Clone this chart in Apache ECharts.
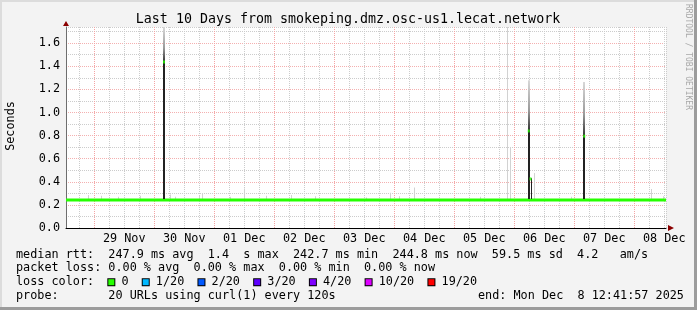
<!DOCTYPE html>
<html><head><meta charset="utf-8">
<script src="https://cdn.jsdelivr.net/npm/echarts@6/dist/echarts.min.js"></script>
<style>html,body{margin:0;padding:0;background:#f3f3f3}#c{width:697px;height:310px}</style>
</head><body><div id="c"></div>
<script>
// ---- data (time = hours since 28 Nov 00:00) ----
const titleText = 'Last 10 Days from smokeping.dmz.osc-us1.lecat.network';
const yAxisName = 'Seconds';
const sideText = 'RRDTOOL / TOBI OETIKER';
const dayLabels = ['29 Nov','30 Nov','01 Dec','02 Dec','03 Dec','04 Dec','05 Dec','06 Dec','07 Dec','08 Dec'];
const startHour = 12.7;
const endHour = 252.7;
const yMax = 1.74;

const medianTime = [12.7,18,24,30,36,42,48,54,60,66,72,78,84,90,96,102,108,114,120,126,132,138,144,150,156,162,168,174,180,186,192,198,204,210,216,222,228,234,240,246,252.7];
const medianValue = [0.242,0.243,0.242,0.242,0.243,0.242,0.242,0.242,0.243,0.242,0.242,0.242,0.243,0.242,0.242,0.242,0.242,0.243,0.242,0.242,0.242,0.243,0.242,0.242,0.242,0.242,0.243,0.242,0.242,0.242,0.242,0.242,0.243,0.242,0.242,0.242,0.242,0.243,0.242,0.242,0.242];

const smokeTime = [21.5,27.0,33.5,42.6,54.3,56.3,66.0,67.4,78.3,84.0,93.0,102.7,112.3,132.7,142.5,146.0,152.0,178.6,189.2,190.4,199.9,215.0,247.0,251.6];
const smokeLow  = [0.245,0.245,0.245,0.245,0.245,0.245,0.245,0.245,0.245,0.245,0.245,0.245,0.245,0.245,0.245,0.245,0.245,0.245,0.245,0.245,0.245,0.245,0.245,0.245];
const smokeHigh = [0.285,0.28,0.27,0.28,0.29,0.27,0.28,0.30,0.27,0.343,0.28,0.285,0.275,0.265,0.305,0.275,0.35,0.27,2.0,0.70,0.476,0.27,0.337,0.275];

const spikeTime   = [51.9,197.8,198.5,220.0];
const spikeLow    = [0.25,0.25,0.25,0.25];
const spikeDense  = [1.436,0.84,0.43,0.795];
const spikeHigh   = [2.0,1.28,0.43,1.264];
const spikeMedian = [1.436,0.84,0.425,0.795];

const lossLabels = ['0','1/20','2/20','3/20','4/20','10/20','19/20'];
const lossColors = ['#26ff00','#00b8ff','#0059ff','#5e00ff','#7e00ff','#dd00ff','#ff0000'];

const rttLine   = 'median rtt:  247.9 ms avg  1.4  s max  242.7 ms min  244.8 ms now  59.5 ms sd  4.2   am/s';
const lossLine  = 'packet loss: 0.00 % avg  0.00 % max  0.00 % min  0.00 % now';
const lossTitle = 'loss color:';
const probeLine = 'probe:       20 URLs using curl(1) every 120s';
const endLine   = 'end: Mon Dec  8 12:41:57 2025';

// ---- chart ----
const MONO = '"DejaVu Sans Mono", monospace';
const FS = 11.8;
const chart = echarts.init(document.getElementById('c'), null, {renderer: 'canvas'});

function isMult(v, step) { const r = v / step; return Math.abs(r - Math.round(r)) < 1e-6; }

function clipTo(params, shape) {
  return echarts.graphic.clipRectByRect(shape, {
    x: params.coordSys.x, y: params.coordSys.y,
    width: params.coordSys.width, height: params.coordSys.height
  });
}

function renderSmoke(params, api) {
  const t = api.value(0), lo = api.value(1), hi = api.value(2);
  const p1 = api.coord([t, lo]), p2 = api.coord([t, hi]);
  const shape = clipTo(params, {x: Math.floor(p1[0]), y: p2[1], width: 1, height: p1[1] - p2[1]});
  if (!shape) return;
  return {type: 'rect', shape: shape, style: {fill: '#d2d2d2'}};
}

function renderSpike(params, api) {
  const t = api.value(0), lo = api.value(1), dense = api.value(2), hi = api.value(3);
  const pLo = api.coord([t, lo]), pD = api.coord([t, dense]), pHi = api.coord([t, hi]);
  const x = Math.round(pLo[0]) - 1;
  const w = (dense === hi) ? 1 : 2;
  const children = [];
  const dShape = clipTo(params, {x: x + (w === 1 ? 1 : 0), y: pD[1], width: w, height: pLo[1] - pD[1]});
  if (dShape) children.push({type: 'rect', shape: dShape, style: {fill: '#222'}});
  if (hi > dense) {
    const gShape = clipTo(params, {x: x, y: pHi[1], width: 2, height: pD[1] - pHi[1]});
    if (gShape) children.push({type: 'rect', shape: gShape, style: {
      fill: new echarts.graphic.LinearGradient(0, 0, 0, 1, [
        {offset: 0, color: '#d8d8d8'}, {offset: 0.6, color: '#9a9a9a'}, {offset: 1, color: '#333'}
      ])
    }});
  }
  return {type: 'group', children: children};
}

const hiddenX = {position: 'bottom', axisLine: {show: false}, axisTick: {show: false}, axisLabel: {show: false}, splitLine: {show: false}};

const richBoxes = {};
const boxKeys = ['a','b','c','d','e','f','g'];
let lossText = lossTitle + '  ';
lossLabels.forEach(function (lab, i) {
  richBoxes[boxKeys[i]] = {width: 6, height: 6, backgroundColor: lossColors[i], borderColor: '#000', borderWidth: 1, padding: 0};
  lossText += '{' + boxKeys[i] + '| }{t| ' + lab + '}' + (i < lossLabels.length - 1 ? '{t|  }' : '');
});
richBoxes.t = {fontFamily: MONO, fontSize: FS, fill: '#000'};

const option = {
  backgroundColor: '#f3f3f3',
  animation: false,
  grid: {left: 66, top: 27, width: 600, height: 201, show: true, backgroundColor: '#ffffff', borderWidth: 0},
  xAxis: [
    Object.assign({type: 'value', min: startHour, max: endHour}, hiddenX),
    Object.assign({type: 'value', min: startHour / 6, max: endHour / 6, splitNumber: 40}, hiddenX,
      {splitLine: {show: true, showMinLine: false, showMaxLine: true, lineStyle: {color: '#cccccc', width: 1, type: [1, 1]}}}),
    Object.assign({type: 'value', min: startHour / 24, max: endHour / 24, splitNumber: 10}, hiddenX,
      {splitLine: {show: true, showMinLine: false, showMaxLine: false, lineStyle: {color: '#f4a4a4', width: 1, type: [1, 1]}}}),
    Object.assign({type: 'value', min: startHour / 24 - 0.5, max: endHour / 24 - 0.5, splitNumber: 10}, hiddenX,
      {axisLabel: {show: true, showMinLabel: false, showMaxLabel: false, margin: 5, fontFamily: MONO, fontSize: FS, color: '#000',
        formatter: function (v) { return isMult(v, 1) && v >= 1 && v <= dayLabels.length ? dayLabels[Math.round(v) - 1] : ''; }}}),
    Object.assign({type: 'value', min: startHour, max: endHour}, hiddenX,
      {axisLine: {show: true, onZero: false, lineStyle: {color: '#000', width: 1}}}),
    Object.assign({type: 'value', min: startHour, max: endHour}, hiddenX,
      {axisLine: {show: true, onZero: false, symbol: ['none', 'triangle'], symbolSize: [6, 6], symbolOffset: [0, 5],
        lineStyle: {color: '#8b0000', width: 0}}})
  ],
  yAxis: [
    {type: 'value', position: 'left', min: 0, max: yMax, interval: 0.1,
      axisLine: {show: true, onZero: false, lineStyle: {color: '#6e6e6e', width: 1}},
      axisTick: {show: false},
      axisLabel: {margin: 6, fontFamily: MONO, fontSize: FS, color: '#000', showMaxLabel: false,
        formatter: function (v) { return isMult(v, 0.2) ? v.toFixed(1) : ''; }},
      splitLine: {show: true, showMinLine: false, showMaxLine: true, lineStyle: {color: '#cccccc', width: 1, type: [1, 1]}}},
    {type: 'value', position: 'left', min: 0, max: yMax, interval: 0.2,
      axisLine: {show: false}, axisTick: {show: false}, axisLabel: {show: false},
      splitLine: {show: true, showMinLine: false, showMaxLine: false, lineStyle: {color: '#f4b0b0', width: 1, type: [1, 1]}}},
    {type: 'value', position: 'left', min: 0, max: yMax, axisTick: {show: false}, axisLabel: {show: false}, splitLine: {show: false},
      axisLine: {show: true, onZero: false, symbol: ['none', 'triangle'], symbolSize: [6, 5], symbolOffset: [0, 3.5],
        lineStyle: {color: '#8b0000', width: 0}}}
  ],
  series: [
    {type: 'custom', name: 'smoke', xAxisIndex: 0, yAxisIndex: 0, z: 2,
      renderItem: renderSmoke,
      data: smokeTime.map(function (t, i) { return [t, smokeLow[i], smokeHigh[i]]; })},
    {type: 'line', name: 'median', xAxisIndex: 0, yAxisIndex: 0, z: 3, symbol: 'none',
      lineStyle: {color: lossColors[0], width: 3},
      data: medianTime.map(function (t, i) { return [t, medianValue[i]]; })},
    {type: 'custom', name: 'dense smoke', xAxisIndex: 0, yAxisIndex: 0, z: 4,
      renderItem: renderSpike,
      data: spikeTime.map(function (t, i) { return [t, spikeLow[i], spikeDense[i], spikeHigh[i]]; })},
    {type: 'scatter', name: 'spike median', xAxisIndex: 0, yAxisIndex: 0, z: 5,
      symbol: 'rect', symbolSize: [2, 3], itemStyle: {color: lossColors[0]},
      data: spikeTime.map(function (t, i) { return [t, spikeMedian[i]]; })}
  ],
  graphic: [
    {type: 'rect', shape: {x: 0, y: 0, width: 697, height: 2}, style: {fill: '#dcdcdc'}, silent: true},
    {type: 'rect', shape: {x: 0, y: 0, width: 2, height: 310}, style: {fill: '#dcdcdc'}, silent: true},
    {type: 'rect', shape: {x: 0, y: 307, width: 697, height: 3}, style: {fill: '#9c9c9c'}, silent: true},
    {type: 'rect', shape: {x: 694, y: 0, width: 3, height: 310}, style: {fill: '#9c9c9c'}, silent: true},
    {type: 'text', x: 348, y: 19.5, style: {text: titleText, fontFamily: MONO, fontSize: 13.3, fill: '#000', align: 'center', verticalAlign: 'middle'}},
    {type: 'text', x: 11, y: 126, rotation: Math.PI / 2, style: {text: yAxisName, fontFamily: MONO, fontSize: FS, fill: '#000', align: 'center', verticalAlign: 'middle'}},
    {type: 'text', x: 688, y: 57, rotation: -Math.PI / 2, style: {text: sideText, fontFamily: MONO, fontSize: 8, fill: '#a8a8a8', align: 'center', verticalAlign: 'middle'}},
    {type: 'text', x: 16, y: 254.5, style: {text: rttLine, fontFamily: MONO, fontSize: FS, fill: '#000', verticalAlign: 'middle'}},
    {type: 'text', x: 16, y: 268.3, style: {text: lossLine, fontFamily: MONO, fontSize: FS, fill: '#000', verticalAlign: 'middle'}},
    {type: 'text', x: 16, y: 282.2, style: {text: lossText, rich: richBoxes, fontFamily: MONO, fontSize: FS, fill: '#000', verticalAlign: 'middle'}},
    {type: 'text', x: 16, y: 296, style: {text: probeLine, fontFamily: MONO, fontSize: FS, fill: '#000', verticalAlign: 'middle'}},
    {type: 'text', x: 478, y: 296, style: {text: endLine, fontFamily: MONO, fontSize: FS, fill: '#000', verticalAlign: 'middle'}}
  ]
};
chart.setOption(option);
</script></body></html>
